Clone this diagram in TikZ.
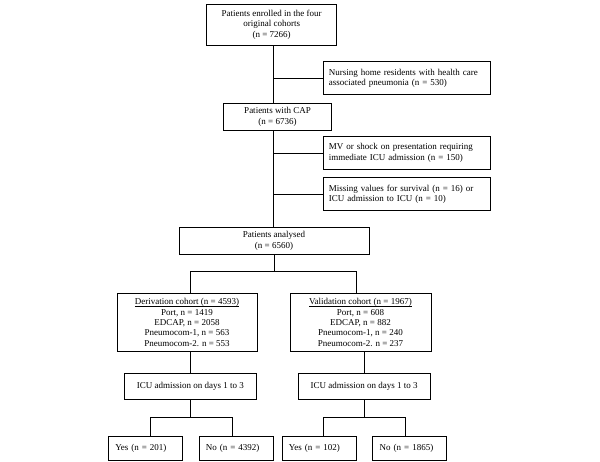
\documentclass[tikz,border=0pt]{standalone}
\usepackage{fontspec}
\setmainfont{Liberation Serif}
\usetikzlibrary{positioning}

\newcommand{\cohortline}[1]{\leavevmode\setbox0\hbox{#1}\rlap{\rule[-1.2pt]{\wd0}{0.45pt}}\box0}

\begin{document}
\begin{tikzpicture}[x=1pt,y=-1pt,
  box/.style={draw, line width=0.6pt, inner sep=0pt, align=center,
    font=\fontsize{9}{10.4}\selectfont},
  sidebox/.style={box, align=left, text width=155pt, inner xsep=6pt,
    minimum width=167pt, minimum height=33pt},
  leafbox/.style={box, align=left, text width=60pt, inner xsep=7pt,
    minimum width=74pt, minimum height=24pt},
  link/.style={line width=0.6pt}]

\def\trunk{273}
\def\sidex{406.3}

\path [use as bounding box] (0,0) rectangle (600,462);

% MAIN COLUMN
\node [box, minimum width=130pt, minimum height=41pt] (enrolled) at (271.7,24.5)
  {Patients enrolled in the four\\original cohorts\\(n = 7266)};
\node [box, minimum width=108.4pt, minimum height=26.7pt] (cap) at (277.5,116.7)
  {Patients with CAP\\(n = 6736)};
\node [box, minimum width=190pt, minimum height=27pt] (analysed) at (274,240.8)
  {Patients analysed\\(n = 6560)};
\coordinate (trunk) at (\trunk,0);

% EXCLUSIONS
\node [sidebox] (nursing) at (\sidex,78.3)
  {Nursing home residents with health care\\associated pneumonia (n = 530)};
\node [sidebox] (mv) at (\sidex,153)
  {MV or shock on presentation requiring\\immediate ICU admission (n = 150)};
\node [sidebox] (missing) at (\sidex,194)
  {Missing values for survival (n = 16) or\\ICU admission to ICU (n = 10)};

% COHORTS
\node [box, minimum width=140pt, minimum height=58.4pt] (deriv) at (187,322.5)
  {\cohortline{Derivation cohort (n = 4593)}\\Port, n = 1419\\EDCAP, n = 2058\\Pneumocom-1, n = 563\\Pneumocom-2. n = 553};
\node [box, minimum width=141pt, minimum height=58.4pt] (valid) at (360.5,322.5)
  {\cohortline{Validation cohort (n = 1967)}\\Port, n = 608\\EDCAP, n = 882\\Pneumocom-1, n = 240\\Pneumocom-2. n = 237};

\node [box, minimum width=132.7pt, minimum height=26pt] (icuL) at (190.3,386.3)
  {ICU admission on days 1 to 3};
\node [box, minimum width=131.7pt, minimum height=26pt] (icuR) at (364.2,386.3)
  {ICU admission on days 1 to 3};

% OUTCOMES
\node [leafbox] (yesL) at (145.3,448) {Yes (n = 201)};
\node [leafbox] (noL) at (235.8,448) {No (n = 4392)};
\node [leafbox] (yesR) at (318.8,448) {Yes (n = 102)};
\node [leafbox] (noR) at (409.7,448) {No (n = 1865)};

% LINKS
\draw [link] (enrolled.south -| trunk) -- (cap.north -| trunk);
\draw [link] (cap.south -| trunk) -- (analysed.north -| trunk);
\draw [link] (nursing.west -| trunk) -- (nursing.west);
\draw [link] (mv.west -| trunk) -- (mv.west);
\draw [link] (missing.west -| trunk) -- (missing.west);

\draw [link] (analysed.south) -- ++(0,16.5) coordinate (split);
\draw [link] ([xshift=3pt]deriv.north) |- (split) -| ([xshift=-4.5pt]valid.north);
\draw [link] (icuL.north) -- (icuL.north |- deriv.south);
\draw [link] (icuR.north) -- (icuR.north |- valid.south);

\draw [link] (icuL.south) -- ++(0,18) coordinate (splitL);
\draw [link] ([xshift=4.7pt]yesL.north) |- (splitL) -| ([xshift=-3.5pt]noL.north);
\draw [link] (icuR.south) -- ++(0,18) coordinate (splitR);
\draw [link] ([xshift=4pt]yesR.north) |- (splitR) -| ([xshift=-4.7pt]noR.north);

\end{tikzpicture}
\end{document}
